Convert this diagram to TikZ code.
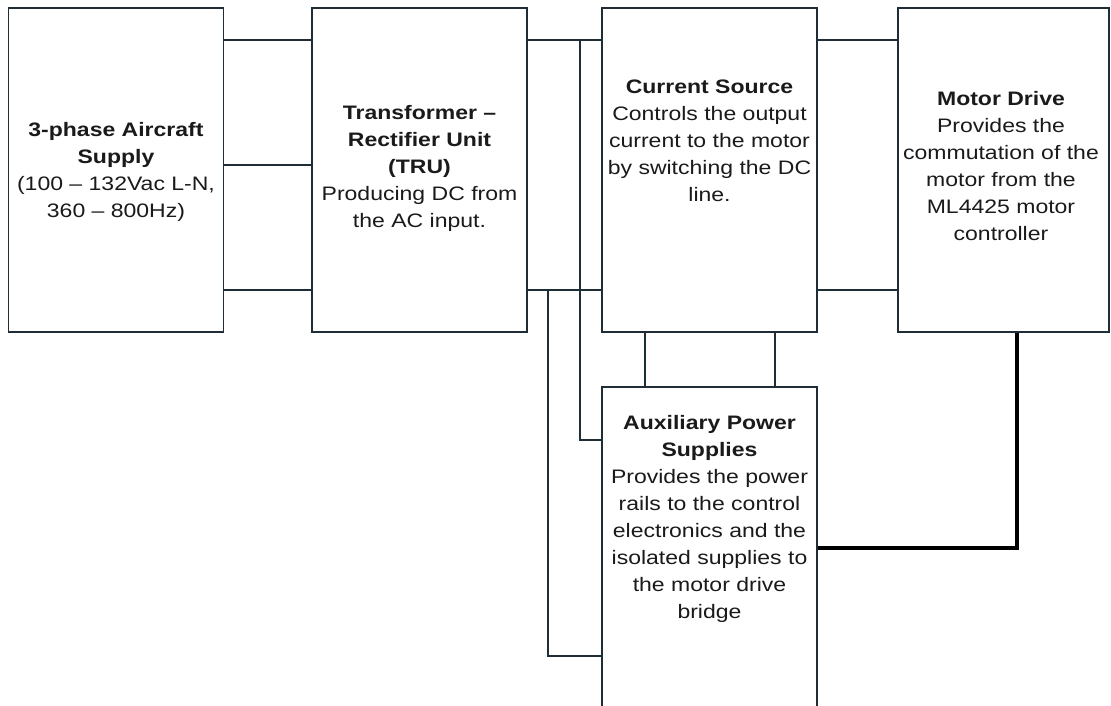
\documentclass[tikz,border=0pt]{standalone}
\usepackage{fontspec}
\setmainfont[FakeStretch=1.18]{Liberation Sans}
\usetikzlibrary{positioning,calc}
\definecolor{wirec}{HTML}{1F2D36}
\definecolor{inkc}{HTML}{1A1A1A}

\begin{document}
\begin{tikzpicture}[x=1pt,y=-1pt,
    blk/.style={draw=wirec, line width=1.6pt, fill=white, minimum width=215pt, minimum height=324pt, inner sep=0pt},
    txt/.style={align=center, inner sep=0pt, text=inkc, font=\fontsize{19.5}{27}\selectfont},
    wire/.style={draw=wirec, line width=1.6pt},
    bus/.style={draw=black, line width=4pt}]
        \clip (0,0) rectangle (1111,706);
        \fill[white] (0,0) rectangle (1111,706);

        % blocks
        \node[blk] (sup) at (116,170) {};
        \node[blk] (tru) at (419.5,170) {};
        \node[blk] (cs) at (709.5,170) {};
        \node[blk, minimum width=211pt] (md) at (1003.5,170) {};
        \node[blk, minimum height=340pt] (aux) at (709.5,557) {};

        \node[txt] (supT) at (116,172) {\textbf{3-phase Aircraft}\\\textbf{Supply}\\(100 -- 132Vac L-N,\\360 -- 800Hz)};
        \node[txt] (truT) at (419.5,168) {\textbf{Transformer --}\\\textbf{Rectifier Unit}\\\textbf{(TRU)}\\Producing DC from\\the AC input.};
        \node[txt] (csT) at (709.5,141) {\textbf{Current Source}\\Controls the output\\current to the motor\\by switching the DC\\line.};
        \node[txt] (mdT) at (1001,166) {\textbf{Motor Drive}\\Provides the\\commutation of the\\motor from the\\ML4425 motor\\controller};
        \node[txt] (auxT) at (709.5,519) {\textbf{Auxiliary Power}\\\textbf{Supplies}\\Provides the power\\rails to the control\\electronics and the\\isolated supplies to\\the motor drive\\bridge};

        % three phase lines
        \draw[wire] ($(sup.north east)+(0,33)$) -- ($(tru.north west)+(0,33)$);
        \draw[wire] ($(sup.east)+(0,-5)$) -- ($(tru.west)+(0,-5)$);
        \draw[wire] ($(sup.south east)+(0,-43)$) -- ($(tru.south west)+(0,-43)$);

        % DC link
        \draw[wire] ($(tru.north east)+(0,33)$) -- ($(cs.north west)+(0,33)$);
        \draw[wire] ($(tru.south east)+(0,-43)$) -- ($(cs.south west)+(0,-43)$);
        \draw[wire] ($(cs.north east)+(0,33)$) -- ($(md.north west)+(0,33)$);
        \draw[wire] ($(cs.south east)+(0,-43)$) -- ($(md.south west)+(0,-43)$);

        % feeds to the auxiliary supplies
        \coordinate (tapA) at (580,41);
        \coordinate (tapB) at (548,289);
        \draw[wire] (tapA) |- (aux.west |- 0,440);
        \draw[wire] (tapB) |- (aux.west |- 0,656);
        \draw[wire] ($(cs.south)+(-64.5,0)$) -- ($(aux.north)+(-64.5,0)$);
        \draw[wire] ($(cs.south)+(65.5,0)$) -- ($(aux.north)+(65.5,0)$);

        \draw[bus] ($(md.south)+(13.5,0)$) |- (aux.east |- 0,548);
    \end{tikzpicture}
\end{document}
